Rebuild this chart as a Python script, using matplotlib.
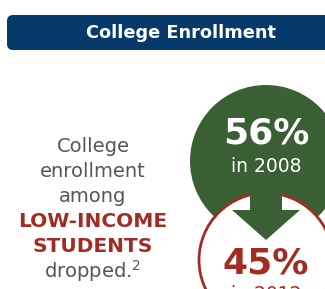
import matplotlib.pyplot as plt
from matplotlib.patches import Circle, FancyBboxPatch, Polygon

title = 'College Enrollment'
years = [2008, 2012]
rates = [56, 45]
caption = ['College', 'enrollment', 'among', 'LOW-INCOME', 'STUDENTS', 'dropped.$^2$']
highlight = [False, False, False, True, True, False]

NAVY = '#063a6b'
GREEN = '#3b5f35'
RED = '#a32b23'
GRAY = '#555555'
FONT = 'DejaVu Sans'

fig = plt.figure(figsize=(3.25, 2.89), dpi=100)
ax = fig.add_axes([0, 0, 1, 1])
ax.set_xlim(0, 325)
ax.set_ylim(289, 0)
ax.set_aspect('equal')
ax.axis('off')

# header banner
ax.add_patch(FancyBboxPatch((7, 15), 340, 35, boxstyle='round,pad=0,rounding_size=6',
                            fc=NAVY, ec='none'))
ax.text(181, 33, title, color='white', fontsize=12.8, fontweight='bold',
        family=FONT, ha='center', va='center')

# left caption
for i, (line, hl) in enumerate(zip(caption, highlight)):
    ax.text(93, 147 + i * 24.8, line, ha='center', va='center', family=FONT,
            fontsize=14 if not hl else 14.5, color=RED if hl else GRAY,
            fontweight='bold' if hl else 'normal')

# circles and arrow
cx = 266
ax.add_patch(Circle((cx, 161), 76, fc=GREEN, ec='none', zorder=1))
ax.add_patch(Circle((cx, 260), 67, fc='white', ec=RED, lw=2, zorder=2))
ax.add_patch(Polygon([(250, 192), (282, 192), (282, 210), (300, 210), (266, 240),
                      (232, 210), (250, 210)], fc=GREEN, ec='none', zorder=3))

ax.text(cx, 134, f'{rates[0]}%', color='white', fontsize=26, fontweight='bold',
        family=FONT, ha='center', va='center', zorder=4)
ax.text(cx, 166, f'in {years[0]}', color='white', fontsize=13.5,
        family=FONT, ha='center', va='center', zorder=4)
ax.text(cx, 263, f'{rates[1]}%', color=RED, fontsize=26, fontweight='bold',
        family=FONT, ha='center', va='center', zorder=4)
ax.text(cx, 295, f'in {years[1]}', color=RED, fontsize=13.5,
        family=FONT, ha='center', va='center', zorder=4)

fig.savefig('out.png', dpi=100)
